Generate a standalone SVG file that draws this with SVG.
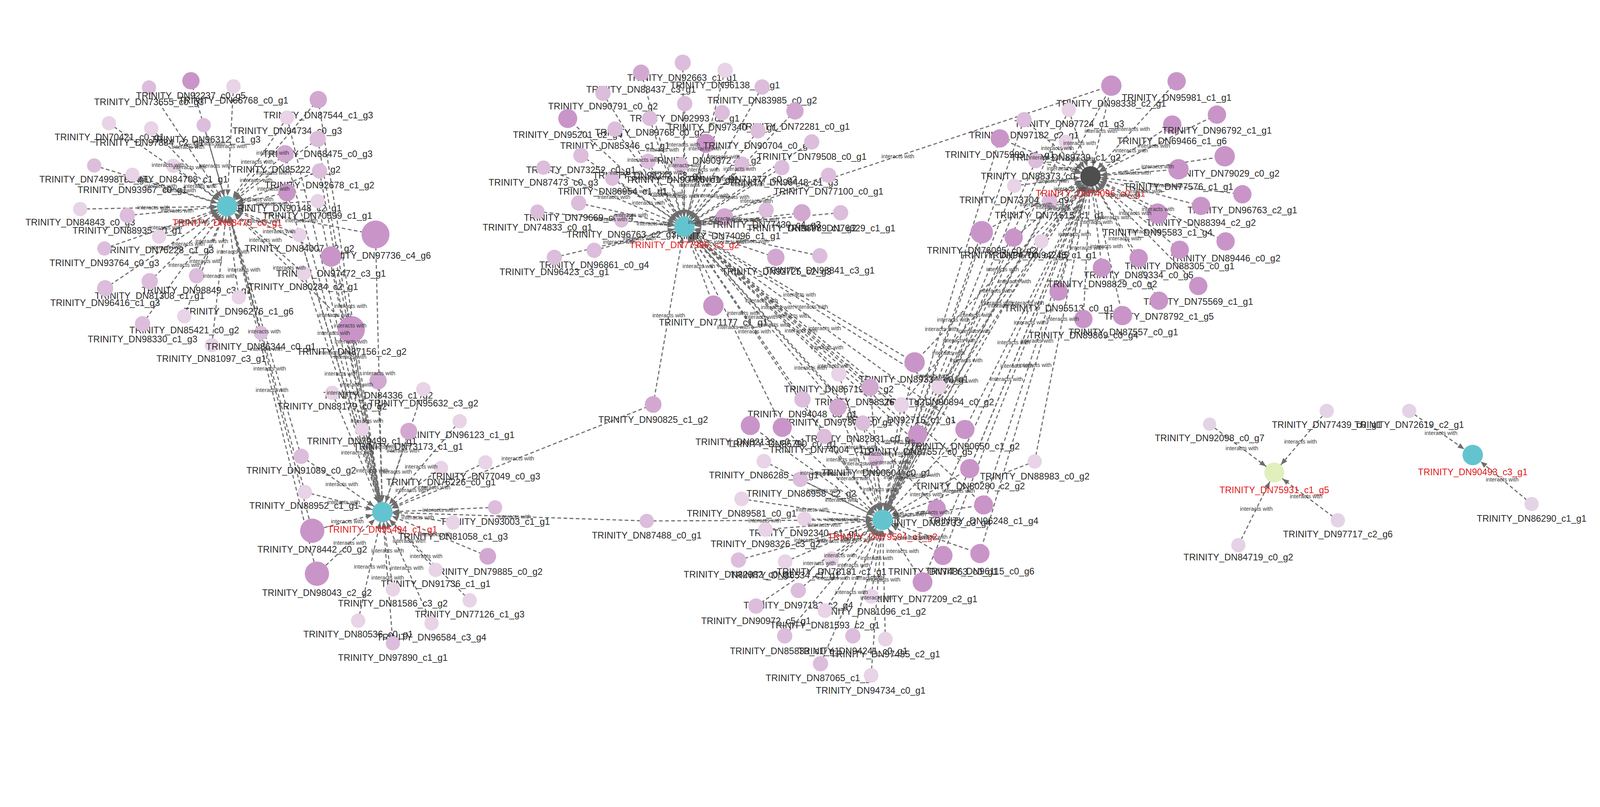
<svg xmlns="http://www.w3.org/2000/svg" width="4409" height="2065" viewBox="0 0 4409 2065">
<defs>
<style>
.edges line{stroke:#6e6e6e;stroke-width:1.1;stroke-dasharray:3.6 2.4;marker-end:url(#ah)}
.el text{font-family:"Liberation Sans",Arial,sans-serif;font-size:5.5px;fill:#3a3a3a;text-anchor:middle;dominant-baseline:central}
.node text{font-family:"Liberation Sans",Arial,sans-serif;font-size:9px;fill:#2b2b2b;text-anchor:middle}
.node text.hl{fill:#e41a1c}
.l1{fill:#e8d3e7}.l2{fill:#dcbddb}.l3{fill:#d2a8d1}.l4{fill:#c995c8}.s{fill:#e4d3e6}
.hub{fill:#63c4cf}.dark{fill:#4e4e4e}.grn{fill:#dff0bd}
</style>
<marker id="ah" markerUnits="userSpaceOnUse" markerWidth="7" markerHeight="6" refX="16.5" refY="2.6" orient="auto" overflow="visible"><path d="M0,0L6.5,2.6L0,5.2z" fill="#6e6e6e"/></marker>
</defs>
<rect width="4409" height="2065" fill="#ffffff"/>
<g transform="scale(2.61224)">
<g id="connectors" class="edges">
<line x1="146" y1="85.7" x2="222.5" y2="202"/>
<line x1="187.1" y1="79.1" x2="222.5" y2="202"/>
<line x1="228.8" y1="84.6" x2="222.5" y2="202"/>
<line x1="311.9" y1="97.5" x2="222.5" y2="202"/>
<line x1="106.8" y1="120.7" x2="222.5" y2="202"/>
<line x1="148.2" y1="125.8" x2="222.5" y2="202"/>
<line x1="199.6" y1="122.6" x2="222.5" y2="202"/>
<line x1="281.4" y1="115.2" x2="222.5" y2="202"/>
<line x1="311.4" y1="136.1" x2="222.5" y2="202"/>
<line x1="279.4" y1="150.6" x2="222.5" y2="202"/>
<line x1="313.1" y1="167.5" x2="222.5" y2="202"/>
<line x1="281.2" y1="188.6" x2="222.5" y2="202"/>
<line x1="311.4" y1="197" x2="222.5" y2="202"/>
<line x1="169.7" y1="162.4" x2="222.5" y2="202"/>
<line x1="92.3" y1="162.1" x2="222.5" y2="202"/>
<line x1="129.7" y1="171.2" x2="222.5" y2="202"/>
<line x1="78.6" y1="204.8" x2="222.5" y2="202"/>
<line x1="124.8" y1="211" x2="222.5" y2="202"/>
<line x1="155.9" y1="231.7" x2="222.5" y2="202"/>
<line x1="102.3" y1="243.4" x2="222.5" y2="202"/>
<line x1="293.4" y1="230.2" x2="222.5" y2="202"/>
<line x1="368" y1="229.7" x2="222.5" y2="202"/>
<line x1="324.4" y1="251.3" x2="222.5" y2="202"/>
<line x1="297.7" y1="267.8" x2="222.5" y2="202"/>
<line x1="192.6" y1="270.1" x2="222.5" y2="202"/>
<line x1="146.7" y1="275.5" x2="222.5" y2="202"/>
<line x1="103" y1="282.4" x2="222.5" y2="202"/>
<line x1="234" y1="291.2" x2="222.5" y2="202"/>
<line x1="180.6" y1="309.8" x2="222.5" y2="202"/>
<line x1="139.7" y1="317.1" x2="222.5" y2="202"/>
<line x1="207.6" y1="338.1" x2="222.5" y2="202"/>
<line x1="255.7" y1="326.2" x2="222.5" y2="202"/>
<line x1="344.3" y1="322.8" x2="222.5" y2="202"/>
<line x1="295.2" y1="447" x2="222.5" y2="202"/>
<line x1="298.8" y1="482" x2="222.5" y2="202"/>
<line x1="306" y1="519.9" x2="222.5" y2="202"/>
<line x1="310.6" y1="562" x2="222.5" y2="202"/>
<line x1="370.5" y1="373" x2="374.8" y2="501.7"/>
<line x1="325.6" y1="384.8" x2="374.8" y2="501.7"/>
<line x1="354.8" y1="420.2" x2="374.8" y2="501.7"/>
<line x1="295.2" y1="447" x2="374.8" y2="501.7"/>
<line x1="298.8" y1="482" x2="374.8" y2="501.7"/>
<line x1="306" y1="519.9" x2="374.8" y2="501.7"/>
<line x1="310.6" y1="562" x2="374.8" y2="501.7"/>
<line x1="432.2" y1="458.4" x2="374.8" y2="501.7"/>
<line x1="475.7" y1="452.9" x2="374.8" y2="501.7"/>
<line x1="485.2" y1="497" x2="374.8" y2="501.7"/>
<line x1="444" y1="511.9" x2="374.8" y2="501.7"/>
<line x1="478" y1="544.9" x2="374.8" y2="501.7"/>
<line x1="427" y1="558.3" x2="374.8" y2="501.7"/>
<line x1="460.3" y1="588.1" x2="374.8" y2="501.7"/>
<line x1="385" y1="577.3" x2="374.8" y2="501.7"/>
<line x1="351" y1="608" x2="374.8" y2="501.7"/>
<line x1="422.9" y1="610.6" x2="374.8" y2="501.7"/>
<line x1="385" y1="630.1" x2="374.8" y2="501.7"/>
<line x1="414.9" y1="381.2" x2="374.8" y2="501.7"/>
<line x1="450.5" y1="412.6" x2="374.8" y2="501.7"/>
<line x1="400.6" y1="422.4" x2="374.8" y2="501.7"/>
<line x1="640.1" y1="396.2" x2="374.8" y2="501.7"/>
<line x1="633.8" y1="510.3" x2="374.8" y2="501.7"/>
<line x1="311.9" y1="97.5" x2="374.8" y2="501.7"/>
<line x1="281.4" y1="115.2" x2="374.8" y2="501.7"/>
<line x1="311.4" y1="136.1" x2="374.8" y2="501.7"/>
<line x1="279.4" y1="150.6" x2="374.8" y2="501.7"/>
<line x1="313.1" y1="167.5" x2="374.8" y2="501.7"/>
<line x1="281.2" y1="188.6" x2="374.8" y2="501.7"/>
<line x1="311.4" y1="197" x2="374.8" y2="501.7"/>
<line x1="293.4" y1="230.2" x2="374.8" y2="501.7"/>
<line x1="368" y1="229.7" x2="374.8" y2="501.7"/>
<line x1="324.4" y1="251.3" x2="374.8" y2="501.7"/>
<line x1="297.7" y1="267.8" x2="374.8" y2="501.7"/>
<line x1="344.3" y1="322.8" x2="374.8" y2="501.7"/>
<line x1="669.1" y1="61.4" x2="670.7" y2="222"/>
<line x1="628.3" y1="71.2" x2="670.7" y2="222"/>
<line x1="710.6" y1="68.9" x2="670.7" y2="222"/>
<line x1="590.9" y1="91.4" x2="670.7" y2="222"/>
<line x1="746.9" y1="85.2" x2="670.7" y2="222"/>
<line x1="671" y1="101.6" x2="670.7" y2="222"/>
<line x1="556.4" y1="116.1" x2="670.7" y2="222"/>
<line x1="636.7" y1="115.9" x2="670.7" y2="222"/>
<line x1="707.7" y1="110.4" x2="670.7" y2="222"/>
<line x1="779.1" y1="108.6" x2="670.7" y2="222"/>
<line x1="602.7" y1="126.5" x2="670.7" y2="222"/>
<line x1="691.8" y1="140.4" x2="670.7" y2="222"/>
<line x1="742.8" y1="128.1" x2="670.7" y2="222"/>
<line x1="795.5" y1="139" x2="670.7" y2="222"/>
<line x1="569.3" y1="152.2" x2="670.7" y2="222"/>
<line x1="635.1" y1="158" x2="670.7" y2="222"/>
<line x1="727" y1="160.8" x2="670.7" y2="222"/>
<line x1="766.2" y1="164.2" x2="670.7" y2="222"/>
<line x1="812" y1="171.7" x2="670.7" y2="222"/>
<line x1="532.6" y1="164.2" x2="670.7" y2="222"/>
<line x1="600" y1="175" x2="670.7" y2="222"/>
<line x1="567.1" y1="198.9" x2="670.7" y2="222"/>
<line x1="526.7" y1="207.3" x2="670.7" y2="222"/>
<line x1="609" y1="215.9" x2="670.7" y2="222"/>
<line x1="710" y1="212.5" x2="670.7" y2="222"/>
<line x1="750.8" y1="205.7" x2="670.7" y2="222"/>
<line x1="785.9" y1="208.4" x2="670.7" y2="222"/>
<line x1="823.8" y1="208.4" x2="670.7" y2="222"/>
<line x1="582.3" y1="245.2" x2="670.7" y2="222"/>
<line x1="543.3" y1="252.1" x2="670.7" y2="222"/>
<line x1="760.3" y1="252.1" x2="670.7" y2="222"/>
<line x1="803.4" y1="250.6" x2="670.7" y2="222"/>
<line x1="699.1" y1="299.4" x2="670.7" y2="222"/>
<line x1="666.9" y1="161.5" x2="670.7" y2="222"/>
<line x1="640.1" y1="396.2" x2="670.7" y2="222"/>
<line x1="1089.1" y1="83.9" x2="670.7" y2="222"/>
<line x1="822.1" y1="366.3" x2="670.7" y2="222"/>
<line x1="786.4" y1="391.2" x2="670.7" y2="222"/>
<line x1="821.1" y1="399" x2="670.7" y2="222"/>
<line x1="852.7" y1="379.4" x2="670.7" y2="222"/>
<line x1="766.6" y1="418.6" x2="670.7" y2="222"/>
<line x1="845.6" y1="414.4" x2="670.7" y2="222"/>
<line x1="807.8" y1="427.5" x2="670.7" y2="222"/>
<line x1="883.3" y1="396.6" x2="670.7" y2="222"/>
<line x1="920.1" y1="378.8" x2="670.7" y2="222"/>
<line x1="899.2" y1="425.7" x2="670.7" y2="222"/>
<line x1="945.6" y1="420.7" x2="670.7" y2="222"/>
<line x1="950.3" y1="459" x2="670.7" y2="222"/>
<line x1="918" y1="498.2" x2="670.7" y2="222"/>
<line x1="963.9" y1="494.6" x2="670.7" y2="222"/>
<line x1="896.3" y1="355" x2="670.7" y2="222"/>
<line x1="1089.1" y1="83.9" x2="1068.7" y2="172.8"/>
<line x1="1153.1" y1="79.6" x2="1068.7" y2="172.8"/>
<line x1="1047.4" y1="107.7" x2="1068.7" y2="172.8"/>
<line x1="1003.6" y1="117.3" x2="1068.7" y2="172.8"/>
<line x1="979.8" y1="135.6" x2="1068.7" y2="172.8"/>
<line x1="1044.5" y1="139" x2="1068.7" y2="172.8"/>
<line x1="1015" y1="157.4" x2="1068.7" y2="172.8"/>
<line x1="993.9" y1="182" x2="1068.7" y2="172.8"/>
<line x1="1028.6" y1="196.9" x2="1068.7" y2="172.8"/>
<line x1="962.1" y1="227.5" x2="1068.7" y2="172.8"/>
<line x1="993.4" y1="232.7" x2="1068.7" y2="172.8"/>
<line x1="1020.6" y1="236.4" x2="1068.7" y2="172.8"/>
<line x1="1037.4" y1="285.6" x2="1068.7" y2="172.8"/>
<line x1="1061.7" y1="312.6" x2="1068.7" y2="172.8"/>
<line x1="1148.8" y1="122" x2="1068.7" y2="172.8"/>
<line x1="1192.6" y1="112.3" x2="1068.7" y2="172.8"/>
<line x1="1200.2" y1="153.1" x2="1068.7" y2="172.8"/>
<line x1="1154.9" y1="165.8" x2="1068.7" y2="172.8"/>
<line x1="1217.5" y1="190.3" x2="1068.7" y2="172.8"/>
<line x1="1177" y1="201.7" x2="1068.7" y2="172.8"/>
<line x1="1134.4" y1="209.3" x2="1068.7" y2="172.8"/>
<line x1="1201.1" y1="236.5" x2="1068.7" y2="172.8"/>
<line x1="1156.1" y1="244.7" x2="1068.7" y2="172.8"/>
<line x1="1115.9" y1="252.8" x2="1068.7" y2="172.8"/>
<line x1="1079.9" y1="262.2" x2="1068.7" y2="172.8"/>
<line x1="1174.3" y1="280.1" x2="1068.7" y2="172.8"/>
<line x1="1135.8" y1="294.6" x2="1068.7" y2="172.8"/>
<line x1="1100" y1="309.1" x2="1068.7" y2="172.8"/>
<line x1="896.3" y1="355" x2="1068.7" y2="172.8"/>
<line x1="920.1" y1="378.8" x2="1068.7" y2="172.8"/>
<line x1="883.3" y1="396.6" x2="1068.7" y2="172.8"/>
<line x1="899.2" y1="425.7" x2="1068.7" y2="172.8"/>
<line x1="945.6" y1="420.7" x2="1068.7" y2="172.8"/>
<line x1="950.3" y1="459" x2="1068.7" y2="172.8"/>
<line x1="1014" y1="452" x2="1068.7" y2="172.8"/>
<line x1="963.9" y1="494.6" x2="1068.7" y2="172.8"/>
<line x1="918" y1="498.2" x2="1068.7" y2="172.8"/>
<line x1="960.3" y1="542.2" x2="1068.7" y2="172.8"/>
<line x1="924.1" y1="544.1" x2="1068.7" y2="172.8"/>
<line x1="904.1" y1="570.2" x2="1068.7" y2="172.8"/>
<line x1="822.1" y1="366.3" x2="864.9" y2="509.3"/>
<line x1="896.3" y1="355" x2="864.9" y2="509.3"/>
<line x1="852.7" y1="379.4" x2="864.9" y2="509.3"/>
<line x1="920.1" y1="378.8" x2="864.9" y2="509.3"/>
<line x1="883.3" y1="396.6" x2="864.9" y2="509.3"/>
<line x1="786.4" y1="391.2" x2="864.9" y2="509.3"/>
<line x1="821.1" y1="399" x2="864.9" y2="509.3"/>
<line x1="735.3" y1="416.8" x2="864.9" y2="509.3"/>
<line x1="766.6" y1="418.6" x2="864.9" y2="509.3"/>
<line x1="845.6" y1="414.4" x2="864.9" y2="509.3"/>
<line x1="807.8" y1="427.5" x2="864.9" y2="509.3"/>
<line x1="899.2" y1="425.7" x2="864.9" y2="509.3"/>
<line x1="945.6" y1="420.7" x2="864.9" y2="509.3"/>
<line x1="858.4" y1="449.5" x2="864.9" y2="509.3"/>
<line x1="748.6" y1="451.8" x2="864.9" y2="509.3"/>
<line x1="784.3" y1="469.6" x2="864.9" y2="509.3"/>
<line x1="950.3" y1="459" x2="864.9" y2="509.3"/>
<line x1="1014" y1="452" x2="864.9" y2="509.3"/>
<line x1="726.8" y1="488.7" x2="864.9" y2="509.3"/>
<line x1="788.4" y1="508.3" x2="864.9" y2="509.3"/>
<line x1="750.2" y1="518.7" x2="864.9" y2="509.3"/>
<line x1="918" y1="498.2" x2="864.9" y2="509.3"/>
<line x1="963.9" y1="494.6" x2="864.9" y2="509.3"/>
<line x1="723.7" y1="548.6" x2="864.9" y2="509.3"/>
<line x1="769.4" y1="550.2" x2="864.9" y2="509.3"/>
<line x1="815" y1="547.3" x2="864.9" y2="509.3"/>
<line x1="924.1" y1="544.1" x2="864.9" y2="509.3"/>
<line x1="960.3" y1="542.2" x2="864.9" y2="509.3"/>
<line x1="782.3" y1="578.4" x2="864.9" y2="509.3"/>
<line x1="904.1" y1="570.2" x2="864.9" y2="509.3"/>
<line x1="853.7" y1="584.1" x2="864.9" y2="509.3"/>
<line x1="740.9" y1="593.7" x2="864.9" y2="509.3"/>
<line x1="808.4" y1="598.1" x2="864.9" y2="509.3"/>
<line x1="769" y1="622.9" x2="864.9" y2="509.3"/>
<line x1="835.8" y1="622.9" x2="864.9" y2="509.3"/>
<line x1="867.6" y1="626.1" x2="864.9" y2="509.3"/>
<line x1="804.1" y1="650.2" x2="864.9" y2="509.3"/>
<line x1="853.7" y1="661.6" x2="864.9" y2="509.3"/>
<line x1="633.8" y1="510.3" x2="864.9" y2="509.3"/>
<line x1="1089.1" y1="83.9" x2="864.9" y2="509.3"/>
<line x1="1047.4" y1="107.7" x2="864.9" y2="509.3"/>
<line x1="1003.6" y1="117.3" x2="864.9" y2="509.3"/>
<line x1="979.8" y1="135.6" x2="864.9" y2="509.3"/>
<line x1="1044.5" y1="139" x2="864.9" y2="509.3"/>
<line x1="1015" y1="157.4" x2="864.9" y2="509.3"/>
<line x1="993.9" y1="182" x2="864.9" y2="509.3"/>
<line x1="1028.6" y1="196.9" x2="864.9" y2="509.3"/>
<line x1="962.1" y1="227.5" x2="864.9" y2="509.3"/>
<line x1="993.4" y1="232.7" x2="864.9" y2="509.3"/>
<line x1="1020.6" y1="236.4" x2="864.9" y2="509.3"/>
<line x1="1185.4" y1="415.5" x2="1248.8" y2="462.9"/>
<line x1="1300.2" y1="402.5" x2="1248.8" y2="462.9"/>
<line x1="1311.1" y1="509.7" x2="1248.8" y2="462.9"/>
<line x1="1213.6" y1="534" x2="1248.8" y2="462.9"/>
<line x1="1381" y1="402.5" x2="1443.3" y2="445.7"/>
<line x1="1501" y1="493.7" x2="1443.3" y2="445.7"/>
</g>
<g id="nodes">
<g id="n-DN73655_c0_g3" class="node"><circle cx="146" cy="85.7" r="7" class="l2"/><text x="146" y="103">TRINITY_DN73655_c0_g3</text></g>
<g id="n-DN92237_c0_g5" class="node"><circle cx="187.1" cy="79.1" r="8.5" class="l4"/><text x="187.1" y="97">TRINITY_DN92237_c0_g5</text></g>
<g id="n-DN66768_c0_g1" class="node"><circle cx="228.8" cy="84.6" r="7" class="l1"/><text x="228.8" y="101.5">TRINITY_DN66768_c0_g1</text></g>
<g id="n-DN87544_c1_g3" class="node"><circle cx="311.9" cy="97.5" r="8.5" class="l3"/><text x="311.9" y="116">TRINITY_DN87544_c1_g3</text></g>
<g id="n-DN70421_c0_g1" class="node"><circle cx="106.8" cy="120.7" r="7" class="l1"/><text x="107.3" y="137.3">TRINITY_DN70421_c0_g1</text></g>
<g id="n-DN97884_c2_g1" class="node"><circle cx="148.2" cy="125.8" r="7" class="l1"/><text x="146" y="142.7">TRINITY_DN97884_c2_g1</text></g>
<g id="n-DN96312_c1_g3" class="node"><circle cx="199.6" cy="122.6" r="7" class="l2"/><text x="201.6" y="139.8">TRINITY_DN96312_c1_g3</text></g>
<g id="n-DN94734_c0_g3" class="node"><circle cx="281.4" cy="115.2" r="7" class="l1"/><text x="281.4" y="131.4">TRINITY_DN94734_c0_g3</text></g>
<g id="n-DN68475_c0_g3" class="node"><circle cx="311.4" cy="136.1" r="8" class="l2"/><text x="311.4" y="153.8">TRINITY_DN68475_c0_g3</text></g>
<g id="n-DN85222_c1_g2" class="node"><circle cx="279.4" cy="150.6" r="8.5" class="l3"/><text x="280" y="169.3">TRINITY_DN85222_c1_g2</text></g>
<g id="n-DN92678_c1_g2" class="node"><circle cx="313.1" cy="167.5" r="7.5" class="l2"/><text x="313.1" y="184.7">TRINITY_DN92678_c1_g2</text></g>
<g id="n-DN90148_c2_g1" class="node"><circle cx="281.2" cy="188.6" r="8.6" class="l4"/><text x="281" y="207.2">TRINITY_DN90148_c2_g1</text></g>
<g id="n-DN70599_c1_g1" class="node"><circle cx="311.4" cy="197" r="7" class="l1"/><text x="311" y="214.5">TRINITY_DN70599_c1_g1</text></g>
<g id="n-DN84708_c1_g1" class="node"><circle cx="169.7" cy="162.4" r="7" class="l1"/><text x="169.7" y="178.8">TRINITY_DN84708_c1_g1</text></g>
<g id="n-DN74998_c1_g1" class="node"><circle cx="92.3" cy="162.1" r="7" class="l2"/><text x="92.3" y="178.8">TRINITY_DN74998_c1_g1</text></g>
<g id="n-DN93967_c0_g1" class="node"><circle cx="129.7" cy="171.2" r="7" class="l1"/><text x="129.7" y="189.2">TRINITY_DN93967_c0_g1</text></g>
<g id="n-DN84843_c0_g3" class="node"><circle cx="78.6" cy="204.8" r="7" class="l1"/><text x="78.6" y="220.8">TRINITY_DN84843_c0_g3</text></g>
<g id="n-DN88935_c0_g1" class="node"><circle cx="124.8" cy="211" r="7.5" class="l2"/><text x="124.8" y="229">TRINITY_DN88935_c0_g1</text></g>
<g id="n-DN76228_c1_g3" class="node"><circle cx="155.9" cy="231.7" r="7" class="l1"/><text x="155.9" y="248.2">TRINITY_DN76228_c1_g3</text></g>
<g id="n-DN93764_c0_g3" class="node"><circle cx="102.3" cy="243.4" r="7" class="l2"/><text x="102.3" y="260.6">TRINITY_DN93764_c0_g3</text></g>
<g id="n-DN84007_c2_g2" class="node"><circle cx="293.4" cy="230.2" r="7" class="l1"/><text x="293.4" y="246.6">TRINITY_DN84007_c2_g2</text></g>
<g id="n-DN97736_c4_g6" class="node"><circle cx="368" cy="229.7" r="13.7" class="l4"/><text x="368.5" y="253.3">TRINITY_DN97736_c4_g6</text></g>
<g id="n-DN97472_c3_g1" class="node"><circle cx="324.4" cy="251.3" r="10" class="l4"/><text x="324.4" y="271">TRINITY_DN97472_c3_g1</text></g>
<g id="n-DN80284_c2_g1" class="node"><circle cx="297.7" cy="267.8" r="7" class="l1"/><text x="297.2" y="284.2">TRINITY_DN80284_c2_g1</text></g>
<g id="n-DN98849_c3_g1" class="node"><circle cx="192.6" cy="270.1" r="7.5" class="l2"/><text x="192.6" y="287.6">TRINITY_DN98849_c3_g1</text></g>
<g id="n-DN81308_c1_g1" class="node"><circle cx="146.7" cy="275.5" r="8" class="l2"/><text x="146.7" y="293">TRINITY_DN81308_c1_g1</text></g>
<g id="n-DN96416_c1_g3" class="node"><circle cx="103" cy="282.4" r="8" class="l2"/><text x="103" y="299.8">TRINITY_DN96416_c1_g3</text></g>
<g id="n-DN96276_c1_g6" class="node"><circle cx="234" cy="291.2" r="7" class="l1"/><text x="234" y="308.3">TRINITY_DN96276_c1_g6</text></g>
<g id="n-DN85421_c0_g2" class="node"><circle cx="180.6" cy="309.8" r="7" class="l1"/><text x="180.6" y="326.4">TRINITY_DN85421_c0_g2</text></g>
<g id="n-DN98330_c1_g3" class="node"><circle cx="139.7" cy="317.1" r="7.5" class="l2"/><text x="139.7" y="335.2">TRINITY_DN98330_c1_g3</text></g>
<g id="n-DN81097_c3_g1" class="node"><circle cx="207.6" cy="338.1" r="7" class="l1"/><text x="207.1" y="354.6">TRINITY_DN81097_c3_g1</text></g>
<g id="n-DN86344_c0_g1" class="node"><circle cx="255.7" cy="326.2" r="7" class="l2"/><text x="255.7" y="342.7">TRINITY_DN86344_c0_g1</text></g>
<g id="n-DN87156_c2_g2" class="node"><circle cx="344.3" cy="322.8" r="13.3" class="l4"/><text x="344.7" y="347.5">TRINITY_DN87156_c2_g2</text></g>
<g id="n-DN84336_c1_g2" class="node"><circle cx="370.5" cy="373" r="8.5" class="l3"/><text x="370.5" y="390.6">TRINITY_DN84336_c1_g2</text></g>
<g id="n-DN83179_c0_g2" class="node"><circle cx="325.6" cy="384.8" r="7" class="l1"/><text x="325.6" y="401.2">TRINITY_DN83179_c0_g2</text></g>
<g id="n-DN79499_c1_g1" class="node"><circle cx="354.8" cy="420.2" r="7" class="l1"/><text x="354.6" y="435.2">TRINITY_DN79499_c1_g1</text></g>
<g id="n-DN91089_c0_g2" class="node"><circle cx="295.2" cy="447" r="7.5" class="l2"/><text x="295.2" y="464">TRINITY_DN91089_c0_g2</text></g>
<g id="n-DN88952_c1_g1" class="node"><circle cx="298.8" cy="482" r="7" class="l1"/><text x="298.1" y="498.4">TRINITY_DN88952_c1_g1</text></g>
<g id="n-DN78442_c0_g2" class="node"><circle cx="306" cy="519.9" r="11.9" class="l4"/><text x="306" y="541.2">TRINITY_DN78442_c0_g2</text></g>
<g id="n-DN98043_c2_g2" class="node"><circle cx="310.6" cy="562" r="11.9" class="l4"/><text x="310.6" y="583.9">TRINITY_DN98043_c2_g2</text></g>
<g id="n-DN76226_c0_g1" class="node"><circle cx="432.2" cy="458.4" r="7" class="l1"/><text x="432.2" y="475.6">TRINITY_DN76226_c0_g1</text></g>
<g id="n-DN77049_c0_g3" class="node"><circle cx="475.7" cy="452.9" r="7" class="l1"/><text x="475.7" y="469.7">TRINITY_DN77049_c0_g3</text></g>
<g id="n-DN93003_c1_g1" class="node"><circle cx="485.2" cy="497" r="7" class="l2"/><text x="485.2" y="514.2">TRINITY_DN93003_c1_g1</text></g>
<g id="n-DN81058_c1_g3" class="node"><circle cx="444" cy="511.9" r="7" class="l1"/><text x="444" y="528.7">TRINITY_DN81058_c1_g3</text></g>
<g id="n-DN79885_c0_g2" class="node"><circle cx="478" cy="544.9" r="8.2" class="l3"/><text x="478" y="563">TRINITY_DN79885_c0_g2</text></g>
<g id="n-DN91736_c1_g1" class="node"><circle cx="427" cy="558.3" r="7" class="l1"/><text x="427" y="575.1">TRINITY_DN91736_c1_g1</text></g>
<g id="n-DN77126_c1_g3" class="node"><circle cx="460.3" cy="588.1" r="7" class="l1"/><text x="460.3" y="605">TRINITY_DN77126_c1_g3</text></g>
<g id="n-DN81586_c3_g2" class="node"><circle cx="385" cy="577.3" r="7" class="l1"/><text x="385" y="594.2">TRINITY_DN81586_c3_g2</text></g>
<g id="n-DN80536_c0_g1" class="node"><circle cx="351" cy="608" r="7" class="l1"/><text x="351" y="624.5">TRINITY_DN80536_c0_g1</text></g>
<g id="n-DN96584_c3_g4" class="node"><circle cx="422.9" cy="610.6" r="7" class="l1"/><text x="422.9" y="627.4">TRINITY_DN96584_c3_g4</text></g>
<g id="n-DN97890_c1_g1" class="node"><circle cx="385" cy="630.1" r="7" class="l2"/><text x="385" y="647.3">TRINITY_DN97890_c1_g1</text></g>
<g id="n-DN95632_c3_g2" class="node"><circle cx="414.9" cy="381.2" r="7" class="l1"/><text x="415" y="398.1">TRINITY_DN95632_c3_g2</text></g>
<g id="n-DN96123_c1_g1" class="node"><circle cx="450.5" cy="412.6" r="7" class="l1"/><text x="450.5" y="429.3">TRINITY_DN96123_c1_g1</text></g>
<g id="n-DN73173_c1_g1" class="node"><circle cx="400.6" cy="422.4" r="8.3" class="l3"/><text x="400.2" y="440.5">TRINITY_DN73173_c1_g1</text></g>
<g id="n-DN90825_c1_g2" class="node"><circle cx="640.1" cy="396.2" r="8.2" class="l3"/><text x="640.1" y="414.3">TRINITY_DN90825_c1_g2</text></g>
<g id="n-DN87488_c0_g1" class="node"><circle cx="633.8" cy="510.3" r="7" class="l2"/><text x="633.8" y="527.7">TRINITY_DN87488_c0_g1</text></g>
<g id="n-DN92663_c1_g1" class="node"><circle cx="669.1" cy="61.4" r="7.9" class="l2"/><text x="668.5" y="79.3">TRINITY_DN92663_c1_g1</text></g>
<g id="n-DN88437_c3_g1" class="node"><circle cx="628.3" cy="71.2" r="8" class="l3"/><text x="628.3" y="90.8">TRINITY_DN88437_c3_g1</text></g>
<g id="n-DN96138_c1_g1" class="node"><circle cx="710.6" cy="68.9" r="7.5" class="l1"/><text x="710.6" y="86.4">TRINITY_DN96138_c1_g1</text></g>
<g id="n-DN90791_c0_g2" class="node"><circle cx="590.9" cy="91.4" r="7.5" class="l2"/><text x="590.9" y="107.2">TRINITY_DN90791_c0_g2</text></g>
<g id="n-DN83985_c0_g2" class="node"><circle cx="746.9" cy="85.2" r="7.5" class="l2"/><text x="746.9" y="101.4">TRINITY_DN83985_c0_g2</text></g>
<g id="n-DN92993_c1_g1" class="node"><circle cx="671" cy="101.6" r="7.5" class="l2"/><text x="671" y="119.1">TRINITY_DN92993_c1_g1</text></g>
<g id="n-DN95201_c2_g4" class="node"><circle cx="556.4" cy="116.1" r="9.3" class="l4"/><text x="556.4" y="135.1">TRINITY_DN95201_c2_g4</text></g>
<g id="n-DN89768_c0_g2" class="node"><circle cx="636.7" cy="115.9" r="7.5" class="l2"/><text x="636.7" y="132.7">TRINITY_DN89768_c0_g2</text></g>
<g id="n-DN97340_c1_g1" class="node"><circle cx="707.7" cy="110.4" r="7.5" class="l2"/><text x="707.7" y="127.9">TRINITY_DN97340_c1_g1</text></g>
<g id="n-DN72281_c0_g1" class="node"><circle cx="779.1" cy="108.6" r="8.5" class="l3"/><text x="779.1" y="127.2">TRINITY_DN72281_c0_g1</text></g>
<g id="n-DN85346_c1_g1" class="node"><circle cx="602.7" cy="126.5" r="7.5" class="l2"/><text x="602.7" y="145.9">TRINITY_DN85346_c1_g1</text></g>
<g id="n-DN90972_c5_g2" class="node"><circle cx="691.8" cy="140.4" r="9.3" class="l4"/><text x="692.3" y="160.3">TRINITY_DN90972_c5_g2</text></g>
<g id="n-DN90704_c0_g1" class="node"><circle cx="742.8" cy="128.1" r="7.5" class="l2"/><text x="742.8" y="145.9">TRINITY_DN90704_c0_g1</text></g>
<g id="n-DN79508_c0_g1" class="node"><circle cx="795.5" cy="139" r="7.5" class="l2"/><text x="795.5" y="156.5">TRINITY_DN79508_c0_g1</text></g>
<g id="n-DN73252_c0_g1" class="node"><circle cx="569.3" cy="152.2" r="7.5" class="l2"/><text x="569.3" y="169.4">TRINITY_DN73252_c0_g1</text></g>
<g id="n-DN98242_c3_g1" class="node"><circle cx="635.1" cy="158" r="7.5" class="l2"/><text x="634.7" y="174.9">TRINITY_DN98242_c3_g1</text></g>
<g id="n-DN90706_c1_g1" class="node"><circle cx="666.9" cy="161.5" r="7.5" class="l2"/><text x="666.9" y="179.1">TRINITY_DN90706_c1_g1</text></g>
<g id="n-DN71377_c0_g2" class="node"><circle cx="727" cy="160.8" r="7.5" class="l2"/><text x="727.4" y="178.9">TRINITY_DN71377_c0_g2</text></g>
<g id="n-DN96448_c1_g3" class="node"><circle cx="766.2" cy="164.2" r="7.5" class="l2"/><text x="767.8" y="181.7">TRINITY_DN96448_c1_g3</text></g>
<g id="n-DN77100_c0_g1" class="node"><circle cx="812" cy="171.7" r="7.5" class="l2"/><text x="812" y="190.5">TRINITY_DN77100_c0_g1</text></g>
<g id="n-DN87473_c0_g3" class="node"><circle cx="532.6" cy="164.2" r="7" class="l2"/><text x="532.6" y="181.7">TRINITY_DN87473_c0_g3</text></g>
<g id="n-DN86954_c1_g1" class="node"><circle cx="600" cy="175" r="7" class="l2"/><text x="600.4" y="190.5">TRINITY_DN86954_c1_g1</text></g>
<g id="n-DN79669_c0_g4" class="node"><circle cx="567.1" cy="198.9" r="7.5" class="l2"/><text x="567.1" y="216.4">TRINITY_DN79669_c0_g4</text></g>
<g id="n-DN74833_c0_g1" class="node"><circle cx="526.7" cy="207.3" r="7" class="l2"/><text x="526.7" y="225.9">TRINITY_DN74833_c0_g1</text></g>
<g id="n-DN96763_c2_g3" class="node"><circle cx="609" cy="215.9" r="7" class="l2"/><text x="609" y="232.7">TRINITY_DN96763_c2_g3</text></g>
<g id="n-DN74096_c1_g1" class="node"><circle cx="710" cy="212.5" r="8.5" class="l3"/><text x="711.1" y="234.1">TRINITY_DN74096_c1_g1</text></g>
<g id="n-DN77430_c4_g3" class="node"><circle cx="750.8" cy="205.7" r="7.5" class="l2"/><text x="750.8" y="223.2">TRINITY_DN77430_c4_g3</text></g>
<g id="n-DN98989_c1_g2" class="node"><circle cx="785.9" cy="208.4" r="8.5" class="l3"/><text x="785.9" y="226.6">TRINITY_DN98989_c1_g2</text></g>
<g id="n-DN76329_c1_g1" class="node"><circle cx="823.8" cy="208.4" r="7.5" class="l2"/><text x="823.8" y="226.6">TRINITY_DN76329_c1_g1</text></g>
<g id="n-DN96861_c0_g4" class="node"><circle cx="582.3" cy="245.2" r="7.5" class="l2"/><text x="582.3" y="262.5">TRINITY_DN96861_c0_g4</text></g>
<g id="n-DN96423_c3_g1" class="node"><circle cx="543.3" cy="252.1" r="7.5" class="l2"/><text x="543.3" y="269.6">TRINITY_DN96423_c3_g1</text></g>
<g id="n-DN92725_c2_g3" class="node"><circle cx="760.3" cy="252.1" r="8.5" class="l3"/><text x="761" y="269">TRINITY_DN92725_c2_g3</text></g>
<g id="n-DN98841_c3_g1" class="node"><circle cx="803.4" cy="250.6" r="7.5" class="l2"/><text x="803.4" y="268">TRINITY_DN98841_c3_g1</text></g>
<g id="n-DN71177_c1_g1" class="node"><circle cx="699.1" cy="299.4" r="10" class="l4"/><text x="699.1" y="318.9">TRINITY_DN71177_c1_g1</text></g>
<g id="n-DN98338_c2_g1" class="node"><circle cx="1089.1" cy="83.9" r="10" class="l4"/><text x="1089.1" y="104.4">TRINITY_DN98338_c2_g1</text></g>
<g id="n-DN95981_c1_g1" class="node"><circle cx="1153.1" cy="79.6" r="9" class="l4"/><text x="1153.1" y="98.6">TRINITY_DN95981_c1_g1</text></g>
<g id="n-DN87724_c1_g3" class="node"><circle cx="1047.4" cy="107.7" r="7" class="l1"/><text x="1047.9" y="124.6">TRINITY_DN87724_c1_g3</text></g>
<g id="n-DN97182_c2_g1" class="node"><circle cx="1003.6" cy="117.3" r="7.5" class="l2"/><text x="1003.6" y="135.4">TRINITY_DN97182_c2_g1</text></g>
<g id="n-DN75989_c1_g1" class="node"><circle cx="979.8" cy="135.6" r="9" class="l4"/><text x="979.8" y="154.5">TRINITY_DN75989_c1_g1</text></g>
<g id="n-DN89739_c1_g2" class="node"><circle cx="1044.5" cy="139" r="7" class="l1"/><text x="1044.5" y="157.2">TRINITY_DN89739_c1_g2</text></g>
<g id="n-DN88373_c0_g7" class="node"><circle cx="1015" cy="157.4" r="7.5" class="l2"/><text x="1015" y="175.6">TRINITY_DN88373_c0_g7</text></g>
<g id="n-DN73704_c0_g9" class="node"><circle cx="993.9" cy="182" r="7" class="l1"/><text x="993.9" y="199.2">TRINITY_DN73704_c0_g9</text></g>
<g id="n-DN71515_c1_g1" class="node"><circle cx="1028.6" cy="196.9" r="7.5" class="l2"/><text x="1028.6" y="214.1">TRINITY_DN71515_c1_g1</text></g>
<g id="n-DN76095_c0_g2" class="node"><circle cx="962.1" cy="227.5" r="11" class="l4"/><text x="962.1" y="248.4">TRINITY_DN76095_c0_g2</text></g>
<g id="n-DN94700_c2_g5" class="node"><circle cx="993.4" cy="232.7" r="9" class="l4"/><text x="993.4" y="253">TRINITY_DN94700_c2_g5</text></g>
<g id="n-DN94245_c1_g1" class="node"><circle cx="1020.6" cy="236.4" r="7" class="l1"/><text x="1021" y="253">TRINITY_DN94245_c1_g1</text></g>
<g id="n-DN95513_c0_g1" class="node"><circle cx="1037.4" cy="285.6" r="9" class="l4"/><text x="1037.9" y="305.2">TRINITY_DN95513_c0_g1</text></g>
<g id="n-DN89869_c0_g4" class="node"><circle cx="1061.7" cy="312.6" r="9" class="l4"/><text x="1061.7" y="331.7">TRINITY_DN89869_c0_g4</text></g>
<g id="n-DN69466_c1_g6" class="node"><circle cx="1148.8" cy="122" r="9" class="l4"/><text x="1148.5" y="141.2">TRINITY_DN69466_c1_g6</text></g>
<g id="n-DN96792_c1_g1" class="node"><circle cx="1192.6" cy="112.3" r="9" class="l4"/><text x="1192.6" y="130.9">TRINITY_DN96792_c1_g1</text></g>
<g id="n-DN79029_c0_g2" class="node"><circle cx="1200.2" cy="153.1" r="10" class="l4"/><text x="1200.2" y="173.2">TRINITY_DN79029_c0_g2</text></g>
<g id="n-DN77576_c1_g1" class="node"><circle cx="1154.9" cy="165.8" r="10" class="l4"/><text x="1154.9" y="186.2">TRINITY_DN77576_c1_g1</text></g>
<g id="n-DN96763_c2_g1" class="node"><circle cx="1217.5" cy="190.3" r="9" class="l4"/><text x="1217.5" y="209.2">TRINITY_DN96763_c2_g1</text></g>
<g id="n-DN88394_c2_g2" class="node"><circle cx="1177" cy="201.7" r="9" class="l4"/><text x="1177" y="221.2">TRINITY_DN88394_c2_g2</text></g>
<g id="n-DN95583_c1_g4" class="node"><circle cx="1134.4" cy="209.3" r="10" class="l4"/><text x="1134.4" y="231">TRINITY_DN95583_c1_g4</text></g>
<g id="n-DN89446_c0_g2" class="node"><circle cx="1201.1" cy="236.5" r="9" class="l4"/><text x="1201.1" y="256">TRINITY_DN89446_c0_g2</text></g>
<g id="n-DN88305_c0_g1" class="node"><circle cx="1156.1" cy="244.7" r="9" class="l4"/><text x="1156.1" y="263.7">TRINITY_DN88305_c0_g1</text></g>
<g id="n-DN89334_c0_g5" class="node"><circle cx="1115.9" cy="252.8" r="9" class="l4"/><text x="1115.9" y="272.4">TRINITY_DN89334_c0_g5</text></g>
<g id="n-DN98829_c0_g2" class="node"><circle cx="1079.9" cy="262.2" r="9" class="l4"/><text x="1080.3" y="281.4">TRINITY_DN98829_c0_g2</text></g>
<g id="n-DN75569_c1_g1" class="node"><circle cx="1174.3" cy="280.1" r="9" class="l4"/><text x="1174.3" y="298.7">TRINITY_DN75569_c1_g1</text></g>
<g id="n-DN78792_c1_g5" class="node"><circle cx="1135.8" cy="294.6" r="9" class="l4"/><text x="1135.8" y="313.2">TRINITY_DN78792_c1_g5</text></g>
<g id="n-DN87557_c0_g1" class="node"><circle cx="1100" cy="309.1" r="9.5" class="l4"/><text x="1100.8" y="328.6">TRINITY_DN87557_c0_g1</text></g>
<g id="n-DN86719_c0_g2" class="node"><circle cx="822.1" cy="366.3" r="7.5" class="l1"/><text x="822.1" y="384.3">TRINITY_DN86719_c0_g2</text></g>
<g id="n-DN89334_c0_g1" class="node"><circle cx="896.3" cy="355" r="10" class="l4"/><text x="895.6" y="374.6">TRINITY_DN89334_c0_g1</text></g>
<g id="n-DN98326_c1_g2" class="node"><circle cx="852.7" cy="379.4" r="8.5" class="l3"/><text x="852.2" y="396.8">TRINITY_DN98326_c1_g2</text></g>
<g id="n-DN90894_c0_g2" class="node"><circle cx="920.1" cy="378.8" r="7.5" class="l1"/><text x="920.4" y="396.8">TRINITY_DN90894_c0_g2</text></g>
<g id="n-DN92715_c1_g1" class="node"><circle cx="883.3" cy="396.6" r="7.5" class="l1"/><text x="882.9" y="414.6">TRINITY_DN92715_c1_g1</text></g>
<g id="n-DN94048_c3_g1" class="node"><circle cx="786.4" cy="391.2" r="8" class="l2"/><text x="786.4" y="408.7">TRINITY_DN94048_c3_g1</text></g>
<g id="n-DN97373_c0_g1" class="node"><circle cx="821.1" cy="399" r="8.5" class="l3"/><text x="821.1" y="417">TRINITY_DN97373_c0_g1</text></g>
<g id="n-DN82132_c0_g1" class="node"><circle cx="735.3" cy="416.8" r="9.4" class="l4"/><text x="735.3" y="436">TRINITY_DN82132_c0_g1</text></g>
<g id="n-DN85790_c0_g1" class="node"><circle cx="766.6" cy="418.6" r="9.4" class="l4"/><text x="766.6" y="438">TRINITY_DN85790_c0_g1</text></g>
<g id="n-DN82831_c0_g1" class="node"><circle cx="845.6" cy="414.4" r="7.5" class="l2"/><text x="843" y="432.9">TRINITY_DN82831_c0_g1</text></g>
<g id="n-DN74004_c1_g1" class="node"><circle cx="807.8" cy="427.5" r="7.5" class="l2"/><text x="807.8" y="443.7">TRINITY_DN74004_c1_g1</text></g>
<g id="n-DN87557_c0_g5" class="node"><circle cx="899.2" cy="425.7" r="9.4" class="l4"/><text x="899.2" y="445.5">TRINITY_DN87557_c0_g5</text></g>
<g id="n-DN90650_c1_g2" class="node"><circle cx="945.6" cy="420.7" r="9.4" class="l4"/><text x="945.6" y="440.2">TRINITY_DN90650_c1_g2</text></g>
<g id="n-DN90604_c0_g1" class="node"><circle cx="858.4" cy="449.5" r="7.5" class="l2"/><text x="858.8" y="466.3">TRINITY_DN90604_c0_g1</text></g>
<g id="n-DN86285_c4_g1" class="node"><circle cx="748.6" cy="451.8" r="7.2" class="l1"/><text x="748.6" y="468.7">TRINITY_DN86285_c4_g1</text></g>
<g id="n-DN86958_c2_g2" class="node"><circle cx="784.3" cy="469.6" r="7.5" class="l2"/><text x="785.3" y="486.5">TRINITY_DN86958_c2_g2</text></g>
<g id="n-DN80280_c2_g2" class="node"><circle cx="950.3" cy="459" r="9.4" class="l4"/><text x="950.7" y="479.4">TRINITY_DN80280_c2_g2</text></g>
<g id="n-DN88983_c0_g2" class="node"><circle cx="1014" cy="452" r="7" class="l1"/><text x="1014" y="469.8">TRINITY_DN88983_c0_g2</text></g>
<g id="n-DN89581_c0_g1" class="node"><circle cx="726.8" cy="488.7" r="7.2" class="l1"/><text x="726.8" y="506.1">TRINITY_DN89581_c0_g1</text></g>
<g id="n-DN92340_c1_g1" class="node"><circle cx="788.4" cy="508.3" r="7.2" class="l1"/><text x="787.8" y="525.1">TRINITY_DN92340_c1_g1</text></g>
<g id="n-DN98326_c3_g2" class="node"><circle cx="750.2" cy="518.7" r="7.2" class="l1"/><text x="750.2" y="535.9">TRINITY_DN98326_c3_g2</text></g>
<g id="n-DN82733_c3_g4" class="node"><circle cx="918" cy="498.2" r="9" class="l4"/><text x="917.6" y="515.4">TRINITY_DN82733_c3_g4</text></g>
<g id="n-DN96248_c1_g4" class="node"><circle cx="963.9" cy="494.6" r="9.4" class="l4"/><text x="963.9" y="513.2">TRINITY_DN96248_c1_g4</text></g>
<g id="n-DN82982_c0_g1" class="node"><circle cx="723.7" cy="548.6" r="7.5" class="l2"/><text x="723.7" y="565.8">TRINITY_DN82982_c0_g1</text></g>
<g id="n-DN86534_c1_g1" class="node"><circle cx="769.4" cy="550.2" r="7.2" class="l1"/><text x="769.4" y="566.4">TRINITY_DN86534_c1_g1</text></g>
<g id="n-DN78181_c1_g1" class="node"><circle cx="815" cy="547.3" r="7.2" class="l1"/><text x="815" y="563.2">TRINITY_DN78181_c1_g1</text></g>
<g id="n-DN74863_c0_g1" class="node"><circle cx="924.1" cy="544.1" r="9.4" class="l4"/><text x="924.1" y="563.2">TRINITY_DN74863_c0_g1</text></g>
<g id="n-DN96115_c0_g6" class="node"><circle cx="960.3" cy="542.2" r="9.4" class="l4"/><text x="960.3" y="562.6">TRINITY_DN96115_c0_g6</text></g>
<g id="n-DN97182_c2_g4" class="node"><circle cx="782.3" cy="578.4" r="7.5" class="l2"/><text x="782.3" y="596.2">TRINITY_DN97182_c2_g4</text></g>
<g id="n-DN77209_c2_g1" class="node"><circle cx="904.1" cy="570.2" r="9.7" class="l4"/><text x="904.1" y="589.9">TRINITY_DN77209_c2_g1</text></g>
<g id="n-DN81096_c1_g2" class="node"><circle cx="853.7" cy="584.1" r="7.2" class="l1"/><text x="853.7" y="602">TRINITY_DN81096_c1_g2</text></g>
<g id="n-DN90972_c5_g1" class="node"><circle cx="740.9" cy="593.7" r="7.5" class="l2"/><text x="740.9" y="611.5">TRINITY_DN90972_c5_g1</text></g>
<g id="n-DN81593_c2_g1" class="node"><circle cx="808.4" cy="598.1" r="7.2" class="l1"/><text x="808.4" y="615.7">TRINITY_DN81593_c2_g1</text></g>
<g id="n-DN85833_c1_g1" class="node"><circle cx="769" cy="622.9" r="7.5" class="l2"/><text x="769" y="640.7">TRINITY_DN85833_c1_g1</text></g>
<g id="n-DN94241_c0_g1" class="node"><circle cx="835.8" cy="622.9" r="7.5" class="l2"/><text x="835.8" y="640.7">TRINITY_DN94241_c0_g1</text></g>
<g id="n-DN97435_c2_g1" class="node"><circle cx="867.6" cy="626.1" r="7.2" class="l1"/><text x="867.6" y="643.9">TRINITY_DN97435_c2_g1</text></g>
<g id="n-DN87065_c1_g4" class="node"><circle cx="804.1" cy="650.2" r="7.5" class="l2"/><text x="804.1" y="667.4">TRINITY_DN87065_c1_g4</text></g>
<g id="n-DN94734_c0_g1" class="node"><circle cx="853.7" cy="661.6" r="7.2" class="l1"/><text x="853.3" y="679.4">TRINITY_DN94734_c0_g1</text></g>
<g id="n-DN92098_c0_g7" class="node"><circle cx="1185.4" cy="415.5" r="6.5" class="s"/><text x="1185.4" y="432.3">TRINITY_DN92098_c0_g7</text></g>
<g id="n-DN77439_c0_g1" class="node"><circle cx="1300.2" cy="402.5" r="7" class="s"/><text x="1300.2" y="419.3">TRINITY_DN77439_c0_g1</text></g>
<g id="n-DN72619_c2_g1" class="node"><circle cx="1381" cy="402.5" r="7" class="s"/><text x="1381" y="419.3">TRINITY_DN72619_c2_g1</text></g>
<g id="n-DN97717_c2_g6" class="node"><circle cx="1311.1" cy="509.7" r="7" class="s"/><text x="1311.1" y="526.5">TRINITY_DN97717_c2_g6</text></g>
<g id="n-DN84719_c0_g2" class="node"><circle cx="1213.6" cy="534" r="7" class="s"/><text x="1213.6" y="549.1">TRINITY_DN84719_c0_g2</text></g>
<g id="n-DN86290_c1_g1" class="node"><circle cx="1501" cy="493.7" r="7" class="s"/><text x="1501" y="511">TRINITY_DN86290_c1_g1</text></g>
<g id="n-DN68475_c0_g1" class="node"><circle cx="222.5" cy="202" r="10" class="hub"/><text x="222.8" y="221.3" class="hl">TRINITY_DN68475_c0_g1</text></g>
<g id="n-DN95494_c1_g1" class="node"><circle cx="374.8" cy="501.7" r="10" class="hub"/><text x="374.8" y="521.6" class="hl">TRINITY_DN95494_c1_g1</text></g>
<g id="n-DN77989_c3_g2" class="node"><circle cx="670.7" cy="222" r="10" class="hub"/><text x="670.7" y="242.9" class="hl">TRINITY_DN77989_c3_g2</text></g>
<g id="n-DN74096_c0_g1" class="node"><circle cx="1068.7" cy="172.8" r="10" class="dark"/><text x="1068.7" y="192.6" class="hl">TRINITY_DN74096_c0_g1</text></g>
<g id="n-DN79594_c1_g2" class="node"><circle cx="864.9" cy="509.3" r="10" class="hub"/><text x="864.9" y="528.9" class="hl">TRINITY_DN79594_c1_g2</text></g>
<g id="n-DN75931_c1_g5" class="node"><circle cx="1248.8" cy="462.9" r="9.8" class="grn"/><text x="1248.8" y="483.1" class="hl">TRINITY_DN75931_c1_g5</text></g>
<g id="n-DN90493_c3_g1" class="node"><circle cx="1443.3" cy="445.7" r="10" class="hub"/><text x="1443.3" y="465.5" class="hl">TRINITY_DN90493_c3_g1</text></g>
</g>
<g id="edge-labels" class="el">
<text x="184.3" y="143.9">interacts with</text><text x="204.8" y="140.6">interacts with</text><text x="225.7" y="143.3">interacts with</text><text x="267.2" y="149.8">interacts with</text><text x="164.7" y="161.4">interacts with</text><text x="185.4" y="163.9">interacts with</text><text x="211.1" y="162.3">interacts with</text><text x="252" y="158.6">interacts with</text><text x="267" y="169.1">interacts with</text><text x="251" y="176.3">interacts with</text><text x="267.8" y="184.8">interacts with</text><text x="251.9" y="195.3">interacts with</text><text x="267" y="199.5">interacts with</text><text x="196.1" y="182.2">interacts with</text><text x="157.4" y="182.1">interacts with</text><text x="176.1" y="186.6">interacts with</text><text x="150.6" y="203.4">interacts with</text><text x="173.7" y="206.5">interacts with</text><text x="189.2" y="216.9">interacts with</text><text x="162.4" y="222.7">interacts with</text><text x="258" y="216.1">interacts with</text><text x="295.3" y="215.9">interacts with</text><text x="273.5" y="226.7">interacts with</text><text x="260.1" y="234.9">interacts with</text><text x="207.6" y="236.1">interacts with</text><text x="184.6" y="238.8">interacts with</text><text x="162.8" y="242.2">interacts with</text><text x="228.3" y="246.6">interacts with</text><text x="201.6" y="255.9">interacts with</text><text x="181.1" y="259.6">interacts with</text><text x="215.1" y="270.1">interacts with</text><text x="239.1" y="264.1">interacts with</text><text x="283.4" y="262.4">interacts with</text><text x="258.9" y="324.5">interacts with</text><text x="260.7" y="342">interacts with</text><text x="264.3" y="361">interacts with</text><text x="266.6" y="382">interacts with</text>
<text x="372.7" y="437.4">interacts with</text><text x="350.2" y="443.3">interacts with</text><text x="364.8" y="461">interacts with</text><text x="335" y="474.4">interacts with</text><text x="336.8" y="491.9">interacts with</text><text x="340.4" y="510.8">interacts with</text><text x="342.7" y="531.9">interacts with</text><text x="403.5" y="480.1">interacts with</text><text x="425.3" y="477.3">interacts with</text><text x="430" y="499.4">interacts with</text><text x="409.4" y="506.8">interacts with</text><text x="426.4" y="523.3">interacts with</text><text x="400.9" y="530">interacts with</text><text x="417.6" y="544.9">interacts with</text><text x="379.9" y="539.5">interacts with</text><text x="362.9" y="554.9">interacts with</text><text x="398.9" y="556.2">interacts with</text><text x="379.9" y="565.9">interacts with</text><text x="394.9" y="441.5">interacts with</text><text x="412.7" y="457.2">interacts with</text><text x="387.7" y="462.1">interacts with</text><text x="507.5" y="449">interacts with</text><text x="504.3" y="506">interacts with</text><text x="343.4" y="299.6">interacts with</text><text x="328.1" y="308.5">interacts with</text><text x="343.1" y="318.9">interacts with</text><text x="327.1" y="326.2">interacts with</text><text x="344" y="334.6">interacts with</text><text x="328" y="345.2">interacts with</text><text x="343.1" y="349.4">interacts with</text><text x="334.1" y="366">interacts with</text><text x="371.4" y="365.7">interacts with</text><text x="349.6" y="376.5">interacts with</text><text x="336.3" y="384.8">interacts with</text><text x="359.6" y="412.3">interacts with</text>
<text x="669.9" y="141.7">interacts with</text><text x="649.5" y="146.6">interacts with</text><text x="690.7" y="145.5">interacts with</text><text x="630.8" y="156.7">interacts with</text><text x="708.8" y="153.6">interacts with</text><text x="670.9" y="161.8">interacts with</text><text x="613.6" y="169.1">interacts with</text><text x="653.7" y="169">interacts with</text><text x="689.2" y="166.2">interacts with</text><text x="724.9" y="165.3">interacts with</text><text x="636.7" y="174.3">interacts with</text><text x="681.3" y="181.2">interacts with</text><text x="706.8" y="175.1">interacts with</text><text x="733.1" y="180.5">interacts with</text><text x="620" y="187.1">interacts with</text><text x="652.9" y="190">interacts with</text><text x="698.9" y="191.4">interacts with</text><text x="718.5" y="193.1">interacts with</text><text x="741.4" y="196.9">interacts with</text><text x="601.7" y="193.1">interacts with</text><text x="635.4" y="198.5">interacts with</text><text x="618.9" y="210.5">interacts with</text><text x="598.7" y="214.7">interacts with</text><text x="639.9" y="219">interacts with</text><text x="690.4" y="217.3">interacts with</text><text x="710.8" y="213.9">interacts with</text><text x="728.3" y="215.2">interacts with</text><text x="747.3" y="215.2">interacts with</text><text x="626.5" y="233.6">interacts with</text><text x="607" y="237.1">interacts with</text><text x="715.5" y="237.1">interacts with</text><text x="737.1" y="236.3">interacts with</text><text x="684.9" y="260.7">interacts with</text><text x="668.8" y="191.8">interacts with</text><text x="655.4" y="309.1">interacts with</text><text x="879.9" y="153">interacts with</text>
<text x="746.4" y="294.2">interacts with</text><text x="728.6" y="306.6">interacts with</text><text x="745.9" y="310.5">interacts with</text><text x="761.7" y="300.7">interacts with</text><text x="718.7" y="320.3">interacts with</text><text x="758.2" y="318.2">interacts with</text><text x="739.3" y="324.8">interacts with</text><text x="777" y="309.3">interacts with</text><text x="795.4" y="300.4">interacts with</text><text x="785" y="323.9">interacts with</text><text x="808.2" y="321.4">interacts with</text><text x="810.5" y="340.5">interacts with</text><text x="794.4" y="360.1">interacts with</text><text x="817.3" y="358.3">interacts with</text><text x="783.5" y="288.5">interacts with</text>
<text x="1078.9" y="128.4">interacts with</text><text x="1110.9" y="126.2">interacts with</text><text x="1058.1" y="140.3">interacts with</text><text x="1036.2" y="145.1">interacts with</text><text x="1024.3" y="154.2">interacts with</text><text x="1056.6" y="155.9">interacts with</text><text x="1041.9" y="165.1">interacts with</text><text x="1031.3" y="177.4">interacts with</text><text x="1048.7" y="184.9">interacts with</text><text x="1015.4" y="200.2">interacts with</text><text x="1031.1" y="202.8">interacts with</text><text x="1044.7" y="204.6">interacts with</text><text x="1053.1" y="229.2">interacts with</text><text x="1065.2" y="242.7">interacts with</text><text x="1108.8" y="147.4">interacts with</text><text x="1130.7" y="142.6">interacts with</text><text x="1134.5" y="163">interacts with</text><text x="1111.8" y="169.3">interacts with</text><text x="1143.1" y="181.6">interacts with</text><text x="1122.9" y="187.3">interacts with</text><text x="1101.6" y="191.1">interacts with</text><text x="1134.9" y="204.7">interacts with</text><text x="1112.4" y="208.8">interacts with</text><text x="1092.3" y="212.8">interacts with</text><text x="1074.3" y="217.5">interacts with</text><text x="1121.5" y="226.5">interacts with</text><text x="1102.3" y="233.7">interacts with</text><text x="1084.4" y="241">interacts with</text>
<text x="982.5" y="263.9">interacts with</text><text x="994.4" y="275.8">interacts with</text><text x="976" y="284.7">interacts with</text><text x="984" y="299.3">interacts with</text><text x="1007.2" y="296.8">interacts with</text><text x="1009.5" y="315.9">interacts with</text><text x="1041.4" y="312.4">interacts with</text><text x="1016.3" y="333.7">interacts with</text><text x="993.4" y="335.5">interacts with</text><text x="1014.5" y="357.5">interacts with</text><text x="996.4" y="358.5">interacts with</text><text x="986.4" y="371.5">interacts with</text>
<text x="843.5" y="437.8">interacts with</text><text x="880.6" y="432.2">interacts with</text><text x="858.8" y="444.4">interacts with</text><text x="892.5" y="444.1">interacts with</text><text x="874.1" y="453">interacts with</text><text x="825.7" y="450.3">interacts with</text><text x="843" y="454.2">interacts with</text><text x="800.1" y="463.1">interacts with</text><text x="815.8" y="464">interacts with</text><text x="855.3" y="461.9">interacts with</text><text x="836.4" y="468.4">interacts with</text><text x="882.1" y="467.5">interacts with</text><text x="905.3" y="465">interacts with</text><text x="861.7" y="479.4">interacts with</text><text x="806.8" y="480.6">interacts with</text><text x="824.6" y="489.5">interacts with</text><text x="907.6" y="484.2">interacts with</text><text x="939.5" y="480.7">interacts with</text><text x="795.9" y="499">interacts with</text><text x="826.7" y="508.8">interacts with</text><text x="807.6" y="514">interacts with</text><text x="891.5" y="503.8">interacts with</text><text x="914.4" y="502">interacts with</text><text x="794.3" y="529">interacts with</text><text x="817.2" y="529.8">interacts with</text><text x="840" y="528.3">interacts with</text><text x="894.5" y="526.7">interacts with</text><text x="912.6" y="525.8">interacts with</text><text x="823.6" y="543.9">interacts with</text><text x="884.5" y="539.8">interacts with</text><text x="859.3" y="546.7">interacts with</text><text x="802.9" y="551.5">interacts with</text><text x="836.7" y="553.7">interacts with</text><text x="817" y="566.1">interacts with</text><text x="850.4" y="566.1">interacts with</text><text x="866.3" y="567.7">interacts with</text><text x="834.5" y="579.8">interacts with</text><text x="859.3" y="585.5">interacts with</text><text x="749.4" y="509.8">interacts with</text>
<text x="977" y="296.6">interacts with</text><text x="956.2" y="308.5">interacts with</text><text x="934.3" y="313.3">interacts with</text><text x="922.4" y="322.5">interacts with</text><text x="954.7" y="324.2">interacts with</text><text x="940" y="333.4">interacts with</text><text x="929.4" y="345.7">interacts with</text><text x="946.8" y="353.1">interacts with</text><text x="913.5" y="368.4">interacts with</text><text x="929.2" y="371">interacts with</text><text x="942.7" y="372.9">interacts with</text>
<text x="1217.1" y="439.2">interacts with</text><text x="1274.5" y="432.7">interacts with</text><text x="1280" y="486.3">interacts with</text><text x="1231.2" y="498.5">interacts with</text><text x="1412.2" y="424.1">interacts with</text><text x="1472.2" y="469.7">interacts with</text>
</g>
</g>
</svg>
